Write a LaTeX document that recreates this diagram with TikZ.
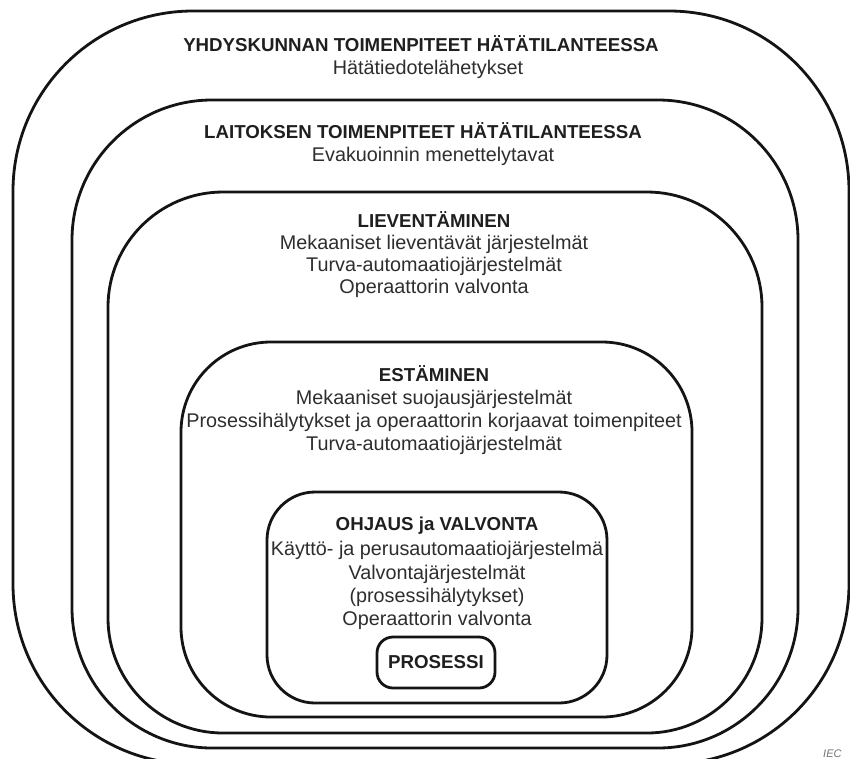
\documentclass[tikz,border=0pt]{standalone}
\usepackage{fontspec}
\setmainfont{Liberation Sans}
\begin{document}
\begin{tikzpicture}[x=1pt,y=1pt,
  frame/.style={draw=black!92, line width=2.8pt},
  ttl/.style={font=\fontsize{18.7}{22}\selectfont\bfseries, text=black!88, anchor=base, inner sep=0pt},
  txt/.style={font=\fontsize{19.8}{22}\selectfont, text=black!82, anchor=base, inner sep=0pt}]
\useasboundingbox (0,0) rectangle (850,-758);
\fill[white] (0,0) rectangle (850,-758);
% nested frames
\draw[frame, rounded corners=180pt] (13,-11) rectangle (849,-764);
\draw[frame, rounded corners=140pt] (72,-100) rectangle (798,-748);
\draw[frame, rounded corners=115pt] (108,-192) rectangle (762,-733);
\draw[frame, rounded corners=90pt] (181,-342) rectangle (692,-717);
\draw[frame, rounded corners=48pt] (267,-492) rectangle (607,-703);
\node[frame, rounded corners=16pt, minimum width=118pt, minimum height=51pt,
  font=\fontsize{18.7}{22}\selectfont\bfseries, text=black!88] (proc) at (436,-662.5) {PROSESSI};
% box 1
\node[ttl] (t1) at (421,-51) {YHDYSKUNNAN TOIMENPITEET HÄTÄTILANTEESSA};
\node[txt] (a1) at (428,-74) {Hätätiedotelähetykset};
% box 2
\node[ttl] (t2) at (423,-138) {LAITOKSEN TOIMENPITEET HÄTÄTILANTEESSA};
\node[txt] (a2) at (433,-161) {Evakuoinnin menettelytavat};
% box 3
\node[ttl] (t3) at (434,-227) {LIEVENTÄMINEN};
\node[txt] (a3) at (434,-249) {Mekaaniset lieventävät järjestelmät};
\node[txt] (b3) at (434,-271) {Turva-automaatiojärjestelmät};
\node[txt] (c3) at (434,-293) {Operaattorin valvonta};
% box 4
\node[ttl] (t4) at (434,-381) {ESTÄMINEN};
\node[txt] (a4) at (434,-404) {Mekaaniset suojausjärjestelmät};
\node[txt] (b4) at (434,-427) {Prosessihälytykset ja operaattorin korjaavat toimenpiteet};
\node[txt] (c4) at (434,-450) {Turva-automaatiojärjestelmät};
% box 5
\node[ttl] (t5) at (437,-530) {OHJAUS ja VALVONTA};
\node[txt] (a5) at (437,-555) {Käyttö- ja perusautomaatiojärjestelmä};
\node[txt] (b5) at (437,-579) {Valvontajärjestelmät};
\node[txt] (c5) at (437,-602) {(prosessihälytykset)};
\node[txt] (d5) at (437,-625) {Operaattorin valvonta};
% source mark
\node[anchor=base west, inner sep=0pt, font=\fontsize{11}{12}\selectfont\itshape, text=black!55] (iec) at (823,-757) {IEC};
\end{tikzpicture}
\end{document}
